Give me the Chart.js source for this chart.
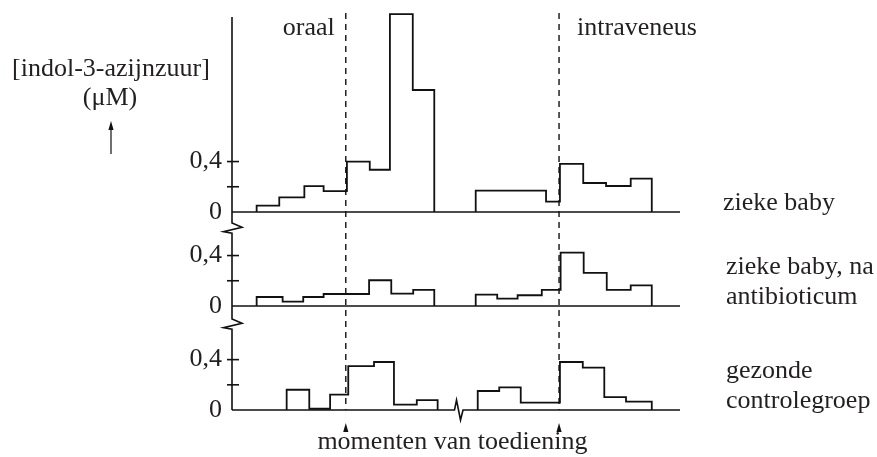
<!DOCTYPE html>
<html>
<head>
<meta charset="utf-8">
<script src="https://cdn.jsdelivr.net/npm/chart.js@4.4.1/dist/chart.umd.min.js"></script>
<style>
  html, body { margin: 0; padding: 0; background: #fff; }
  #wrap { width: 877px; height: 457px; }
</style>
</head>
<body>
<div id="wrap"><canvas id="grafiek" width="877" height="457"></canvas></div>
<script>
// tijd (willekeurige eenheden): begin van elke stap, waarde 0 = einde van een blok
const tijdZiek = [1.10, 2.11, 3.23, 4.09, 5.13, 6.15, 7.05, 8.07, 9.03, 10.88, 14.02, 14.64, 15.68, 16.70, 17.80, 18.74];
const ziekeBaby = [0.05, 0.115, 0.205, 0.165, 0.40, 0.335, 1.57, 0.968, 0, 0.169, 0.082, 0.381, 0.230, 0.206, 0.264, 0];

const tijdAntibioticum = [1.10, 2.26, 3.18, 4.09, 6.12, 7.11, 8.09, 9.03, 10.88, 11.84, 12.75, 13.83, 14.67, 15.70, 16.73, 17.80, 18.74];
const ziekeBabyAntibioticum = [0.071, 0.034, 0.071, 0.095, 0.204, 0.098, 0.127, 0, 0.090, 0.058, 0.085, 0.127, 0.423, 0.262, 0.127, 0.164, 0];

const tijdGezond = [2.44, 3.45, 4.38, 5.19, 6.34, 7.23, 8.25, 9.18, 10.97, 11.93, 12.89, 14.64, 15.66, 16.62, 17.59, 18.74];
const gezondeControle = [0.161, 0.010, 0.123, 0.349, 0.381, 0.043, 0.078, 0, 0.151, 0.180, 0.059, 0.381, 0.336, 0.102, 0.067, 0];

const toedieningen = [5.08, 14.60]; // oraal, intraveneus
const tijdBreuk = 10.09;
const yTicks = [0, 0.2, 0.4];
const yBereik = [[-0.127, 1.587], [-0.143, 0.619], [-0.095, 0.683]];
const panelLabels = [["zieke baby"], ["zieke baby, na", "antibioticum"], ["gezonde", "controlegroep"]];

const FONT = '26px "Liberation Serif", "Times New Roman", serif';
const TEKST = "#231f20";
const LIJN = "#111";

// trappen: elke waarde geldt vanaf zijn tijd tot de volgende tijd
function stappen(tijden, waarden) {
  const pts = [];
  let open = false;
  tijden.forEach((t, i) => {
    const v = waarden[i];
    if (!open) {
      pts.push({ x: t, y: 0 });
      open = true;
    }
    pts.push({ x: t, y: v });
    if (v === 0) {
      pts.push({ x: t, y: null });
      open = false;
    }
  });
  return pts;
}

const ySchaal = (i) => ({
  type: "linear",
  position: "left",
  stack: "panelen",
  stackWeight: yBereik[i][1] - yBereik[i][0],
  weight: 3 - i,
  min: yBereik[i][0],
  max: yBereik[i][1],
  border: { display: false },
  grid: { display: false, drawTicks: false },
  afterBuildTicks: (axis) => {
    axis.ticks = yTicks.map((v) => ({ value: v }));
  },
  afterFit: (axis) => {
    axis.width = 232;
    axis.paddingTop = 0;
    axis.paddingBottom = 0;
  },
  ticks: {
    padding: 10,
    color: TEKST,
    font: { family: '"Liberation Serif", "Times New Roman", serif', size: 26 },
    callback: (v) => (v === 0 ? "0" : v === 0.4 ? "0,4" : ""),
  },
});

const tekenPlugin = {
  id: "tekening",
  afterDatasetsDraw(chart) {
    const { ctx, chartArea, scales } = chart;
    const xs = scales.x;
    const panelen = [scales.y1, scales.y2, scales.y3];
    const asX = chartArea.left;
    ctx.save();
    ctx.strokeStyle = LIJN;
    ctx.fillStyle = LIJN;
    ctx.lineWidth = 1.6;

    // nullijnen + streepjes op de as
    panelen.forEach((s, i) => {
      const y0 = s.getPixelForValue(0);
      ctx.beginPath();
      ctx.moveTo(asX, y0);
      if (i === 2) {
        const xb = xs.getPixelForValue(tijdBreuk);
        ctx.lineTo(xb - 3.5, y0);
        ctx.lineTo(xb - 1.5, y0 - 10);
        ctx.lineTo(xb + 2.5, y0 + 10);
        ctx.lineTo(xb + 5, y0);
      }
      ctx.lineTo(chartArea.right, y0);
      ctx.stroke();
      [0.2, 0.4].forEach((v) => {
        const yt = s.getPixelForValue(v);
        ctx.beginPath();
        ctx.moveTo(asX - 5, yt);
        ctx.lineTo(asX + 7, yt);
        ctx.stroke();
      });
    });

    // y-as met onderbrekingen
    ctx.beginPath();
    ctx.moveTo(asX, chartArea.top + 5);
    [panelen[0].bottom, panelen[1].bottom].forEach((yb) => {
      ctx.lineTo(asX, yb - 5);
      ctx.lineTo(asX + 10, yb - 0.7);
      ctx.lineTo(asX - 8.5, yb + 3.7);
      ctx.lineTo(asX, yb + 5.3);
    });
    ctx.lineTo(asX, panelen[2].getPixelForValue(0));
    ctx.stroke();

    // momenten van toediening
    const yOnder = panelen[2].getPixelForValue(0);
    toedieningen.forEach((t) => {
      const xd = xs.getPixelForValue(t);
      ctx.save();
      ctx.lineWidth = 1.4;
      ctx.setLineDash([6, 5]);
      ctx.beginPath();
      ctx.moveTo(xd, chartArea.top + 1);
      ctx.lineTo(xd, yOnder);
      ctx.stroke();
      ctx.restore();
      ctx.beginPath();
      ctx.moveTo(xd, yOnder + 13);
      ctx.lineTo(xd - 2.6, yOnder + 22);
      ctx.lineTo(xd + 2.6, yOnder + 22);
      ctx.closePath();
      ctx.fill();
    });

    // teksten
    ctx.font = FONT;
    ctx.fillStyle = TEKST;
    ctx.textBaseline = "alphabetic";
    const xOraal = xs.getPixelForValue(toedieningen[0]);
    const xIv = xs.getPixelForValue(toedieningen[1]);
    ctx.textAlign = "right";
    ctx.fillText("oraal", xOraal - 11, 35);
    ctx.textAlign = "left";
    ctx.fillText("intraveneus", xIv + 18, 35);

    panelLabels.forEach((regels, i) => {
      const y0 = panelen[i].getPixelForValue(0);
      regels.forEach((r, j) => {
        const yb = y0 - 2 - (regels.length - 1 - j) * 30;
        ctx.fillText(r, chartArea.right + (i === 0 ? 43 : 46), yb);
      });
    });

    ctx.textAlign = "center";
    ctx.fillText("momenten van toediening", (xOraal + xIv) / 2, 449);
    ctx.fillText("[indol-3-azijnzuur]", 111, 76);
    ctx.fillText("(\u03bcM)", 110, 105);

    // pijl omhoog bij de as-titel
    ctx.fillStyle = LIJN;
    ctx.lineWidth = 1.2;
    ctx.beginPath();
    ctx.moveTo(111, 154);
    ctx.lineTo(111, 128);
    ctx.stroke();
    ctx.beginPath();
    ctx.moveTo(111, 121);
    ctx.lineTo(108.4, 130);
    ctx.lineTo(113.6, 130);
    ctx.closePath();
    ctx.fill();
    ctx.restore();
  },
};

const lijnStijl = {
  borderColor: LIJN,
  borderWidth: 1.8,
  pointRadius: 0,
  stepped: "before",
  fill: false,
  spanGaps: false,
};

new Chart(document.getElementById("grafiek"), {
  type: "line",
  data: {
    datasets: [
      { ...lijnStijl, label: "zieke baby", data: stappen(tijdZiek, ziekeBaby), yAxisID: "y1" },
      { ...lijnStijl, label: "zieke baby, na antibioticum", data: stappen(tijdAntibioticum, ziekeBabyAntibioticum), yAxisID: "y2" },
      { ...lijnStijl, label: "gezonde controlegroep", data: stappen(tijdGezond, gezondeControle), yAxisID: "y3" },
    ],
  },
  options: {
    responsive: false,
    animation: false,
    events: [],
    layout: { padding: { left: 0, top: 12, right: 197, bottom: 35 } },
    plugins: { legend: { display: false }, tooltip: { enabled: false } },
    scales: {
      x: { type: "linear", min: 0, max: 20, display: false },
      y1: ySchaal(0),
      y2: ySchaal(1),
      y3: ySchaal(2),
    },
  },
  plugins: [tekenPlugin],
});
</script>
</body>
</html>
